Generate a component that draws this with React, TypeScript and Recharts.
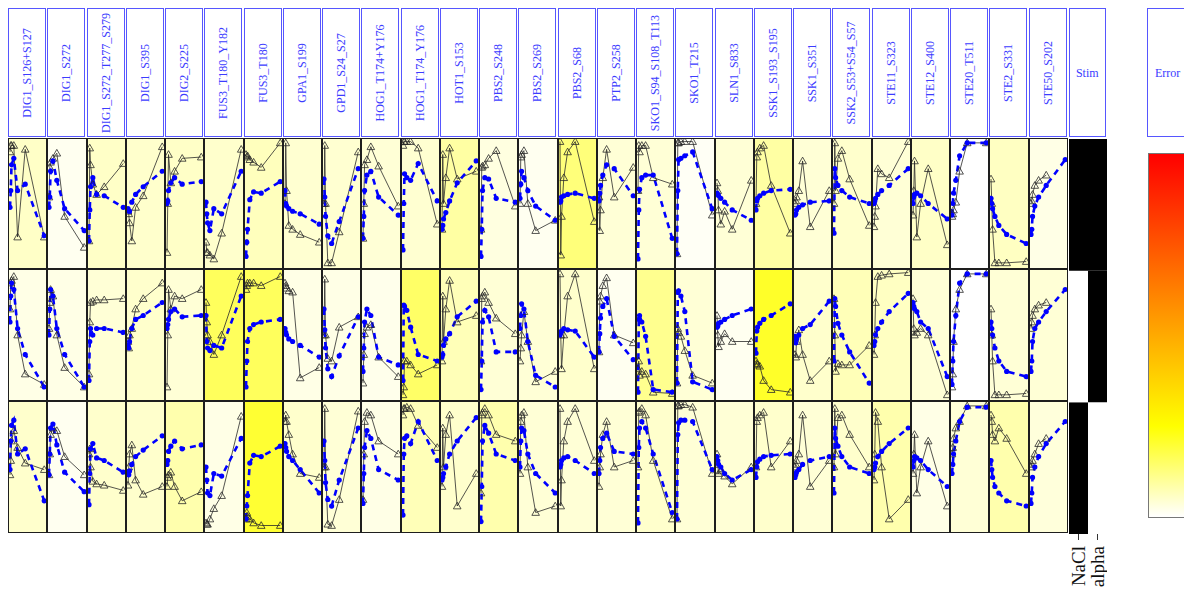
import React from "react";
import { LineChart, Line, XAxis, YAxis, BarChart, Bar, Cell } from "recharts";

// sampling times (min) shared by every phosphosite panel
const times = [0, 1, 2, 5, 10, 20, 45];

const sites = [
  "DIG1_S126+S127", "DIG1_S272", "DIG1_S272_T277_S279", "DIG1_S395", "DIG2_S225",
  "FUS3_T180_Y182", "FUS3_T180", "GPA1_S199", "GPD1_S24_S27", "HOG1_T174+Y176",
  "HOG1_T174_Y176", "HOT1_S153", "PBS2_S248", "PBS2_S269", "PBS2_S68", "PTP2_S258",
  "SKO1_S94_S108_T113", "SKO1_T215", "SLN1_S833", "SSK1_S193_S195", "SSK1_S351",
  "SSK2_S53+S54_S57", "STE11_S323", "STE12_S400", "STE20_T511", "STE2_S331", "STE50_S202",
];

const stimConditions = ["NaCl", "alpha"];
const stimNaCl = [1, 0, 1];
const stimAlpha = [1, 1, 0];

// fit error per panel, one list per experiment row
const errorRow1 = [0.055, 0.015, 0.055, 0.05, 0.055, 0.05, 0.065, 0.045, 0.045, 0.04, 0.045, 0.09, 0.03, 0.015, 0.13, 0.04, 0.04, 0.01, 0.04, 0.09, 0.04, 0.05, 0.04, 0.055, 0.0, 0.06, 0.025];
const errorRow2 = [0.025, 0.025, 0.04, 0.05, 0.04, 0.16, 0.16, 0.025, 0.025, 0.02, 0.15, 0.07, 0.04, 0.04, 0.05, 0.015, 0.11, 0.04, 0.015, 0.21, 0.05, 0.07, 0.06, 0.04, 0.0, 0.04, 0.04];
const errorRow3 = [0.05, 0.015, 0.05, 0.05, 0.08, 0.025, 0.2, 0.05, 0.04, 0.025, 0.07, 0.05, 0.08, 0.04, 0.04, 0.04, 0.05, 0.04, 0.04, 0.05, 0.04, 0.05, 0.08, 0.025, 0.04, 0.08, 0.035];

// normalised measurements (triangles)
const measuredRow1 = [
  [0.9, 0.95, 0.95, 0.95, 0.24, 0.92, 0.24], [0.55, 0.78, 0.82, 0.85, 0.89, 0.4, 0.16],
  [0.21, 0.93, 0.8, 0.65, 0.57, 0.63, 0.81], [0.44, 0.42, 0.35, 0.21, 0.47, 0.56, 0.94],
  [0.12, 0.5, 0.88, 0.66, 0.75, 0.85, 0.86], [0.2, 0.12, 0.12, 0.1, 0.07, 0.27, 0.92],
  [0.88, 0.86, 0.87, 0.84, 0.82, 0.78, 0.97], [0.5, 0.97, 0.6, 0.33, 0.3, 0.26, 0.2],
  [0.5, 0.95, 0.5, 0.04, 0.04, 0.28, 0.9], [0.23, 0.5, 0.8, 0.84, 0.94, 0.79, 0.48],
  [0.95, 0.98, 0.98, 0.98, 0.98, 0.93, 0.34], [0.3, 0.88, 0.5, 0.7, 0.93, 0.69, 0.75],
  [0.3, 0.78, 0.79, 0.8, 0.85, 0.91, 0.48], [0.5, 0.86, 0.88, 0.91, 0.5, 0.29, 0.37],
  [0.98, 0.1, 0.4, 0.7, 0.9, 0.98, 0.36], [0.55, 0.29, 0.45, 0.7, 0.92, 0.55, 0.78],
  [0.6, 0.95, 0.9, 0.95, 0.95, 0.7, 0.65], [0.11, 0.97, 0.97, 0.98, 0.98, 0.98, 0.41],
  [0.66, 0.6, 0.45, 0.34, 0.44, 0.3, 0.68], [0.5, 0.86, 0.9, 0.93, 0.95, 0.64, 0.27],
  [0.5, 0.52, 0.55, 0.6, 0.83, 0.32, 0.6], [0.5, 0.97, 0.6, 0.85, 0.91, 0.69, 0.33],
  [0.32, 0.4, 0.48, 0.77, 0.73, 0.7, 0.98], [0.41, 0.6, 0.83, 0.24, 0.5, 0.77, 0.18],
  [0.4, 0.42, 0.45, 0.51, 0.75, 0.97, 0.97], [0.69, 0.5, 0.3, 0.04, 0.04, 0.04, 0.05],
  [0.5, 0.52, 0.57, 0.64, 0.68, 0.72, null],
];
const measuredRow2 = [
  [0.7, 0.9, 0.92, 0.95, 0.5, 0.2, 0.12], [0.55, 0.75, 0.85, 0.8, 0.5, 0.25, 0.1],
  [0.2, 0.6, 0.75, 0.76, 0.77, 0.77, 0.78], [0.45, 0.4, 0.5, 0.55, 0.7, 0.78, 0.9],
  [0.1, 0.5, 0.85, 0.7, 0.8, 0.78, 0.85], [0.75, 0.6, 0.5, 0.45, 0.35, 0.5, 0.95],
  [0.85, 0.88, 0.9, 0.9, 0.9, 0.88, 0.95], [0.9, 0.88, 0.86, 0.84, 0.83, 0.17, 0.25],
  [0.5, 0.93, 0.5, 0.32, 0.3, 0.56, 0.64], [0.13, 0.35, 0.51, 0.56, 0.58, 0.33, 0.18],
  [0.04, 0.1, 0.3, 0.3, 0.27, 0.2, 0.27], [0.3, 0.8, 0.45, 0.7, 0.92, 0.6, 0.65],
  [0.3, 0.78, 0.8, 0.83, 0.75, 0.63, 0.51], [0.3, 0.4, 0.5, 0.68, 0.45, 0.14, 0.22],
  [0.97, 0.5, 0.24, 0.5, 0.8, 0.97, 0.24], [0.37, 0.76, 0.8, 0.88, 0.94, 0.5, 0.44],
  [0.24, 0.3, 0.19, 0.22, 0.2, 0.06, 0.05], [0.13, 0.55, 0.52, 0.49, 0.38, 0.19, 0.13],
  [0.65, 0.5, 0.41, 0.45, 0.51, 0.45, 0.45], [0.3, 0.28, 0.27, 0.26, 0.15, 0.08, 0.06],
  [0.35, 0.33, 0.45, 0.54, 0.35, 0.15, 0.3], [0.78, 0.5, 0.22, 0.28, 0.27, 0.27, 0.42],
  [0.35, 0.5, 0.75, 0.95, 0.96, 0.97, 0.98], [0.78, 0.55, 0.5, 0.52, 0.55, 0.5, 0.04],
  [0.1, 0.2, 0.45, 0.7, 0.85, 0.97, 0.97], [0.7, 0.5, 0.3, 0.04, 0.04, 0.04, 0.05],
  [0.55, 0.6, 0.65, 0.7, 0.73, 0.75, null],
];
const measuredRow3 = [
  [0.44, 0.55, 0.7, 0.78, 0.65, 0.53, 0.48], [0.44, 0.6, 0.75, 0.8, 0.78, 0.58, 0.44],
  [0.6, 0.64, 0.5, 0.39, 0.37, 0.36, 0.32], [0.36, 0.5, 0.6, 0.67, 0.4, 0.29, 0.35],
  [0.35, 0.42, 0.44, 0.46, 0.35, 0.24, 0.31], [0.07, 0.06, 0.06, 0.1, 0.18, 0.28, 0.89],
  [0.1, 0.15, 0.12, 0.1, 0.07, 0.05, 0.05], [0.85, 0.9, 0.85, 0.75, 0.6, 0.45, 0.42],
  [0.5, 0.95, 0.5, 0.06, 0.05, 0.25, 0.93], [0.25, 0.6, 0.85, 0.92, 0.9, 0.7, 0.6],
  [0.9, 0.95, 0.95, 0.96, 0.95, 0.82, 0.65], [0.35, 0.8, 0.5, 0.75, 0.9, 0.2, 0.45],
  [0.3, 0.9, 0.92, 0.95, 0.9, 0.75, 0.7], [0.45, 0.85, 0.9, 0.92, 0.5, 0.15, 0.2],
  [0.95, 0.2, 0.4, 0.7, 0.85, 0.95, 0.55], [0.35, 0.5, 0.6, 0.75, 0.85, 0.5, 0.55],
  [0.5, 0.92, 0.93, 0.95, 0.9, 0.55, 0.1], [0.1, 0.97, 0.97, 0.98, 0.98, 0.96, 0.45],
  [0.6, 0.52, 0.45, 0.47, 0.43, 0.37, 0.5], [0.5, 0.85, 0.88, 0.9, 0.92, 0.5, 0.7],
  [0.5, 0.52, 0.55, 0.6, 0.9, 0.35, 0.55], [0.5, 0.95, 0.6, 0.88, 0.9, 0.75, 0.5],
  [0.4, 0.6, 0.92, 0.85, 0.5, 0.1, 0.25], [0.45, 0.6, 0.75, 0.3, 0.5, 0.7, 0.2],
  [0.6, 0.65, 0.72, 0.8, 0.85, 0.97, 0.97], [0.9, 0.85, 0.75, 0.7, 0.8, 0.72, 0.45],
  [0.5, 0.52, 0.55, 0.6, 0.68, 0.72, null],
];

// normalised model output (blue dashed)
const simulatedRow1 = [
  [0.47, 0.6, 0.8, 0.85, 0.6, 0.65, 0.25], [0.47, 0.55, 0.75, 0.83, 0.68, 0.46, 0.29],
  [0.21, 0.45, 0.63, 0.7, 0.57, 0.56, 0.47], [0.46, 0.44, 0.44, 0.51, 0.57, 0.63, 0.75],
  [0.5, 0.52, 0.6, 0.66, 0.7, 0.65, 0.67], [0.51, 0.42, 0.35, 0.29, 0.46, 0.42, 0.75],
  [0.09, 0.2, 0.3, 0.53, 0.59, 0.58, 0.67], [0.6, 0.5, 0.48, 0.46, 0.44, 0.42, 0.34],
  [0.69, 0.55, 0.4, 0.25, 0.19, 0.36, 0.77], [0.23, 0.4, 0.6, 0.72, 0.75, 0.55, 0.41],
  [0.14, 0.5, 0.73, 0.7, 0.68, 0.81, 0.52], [0.3, 0.33, 0.38, 0.43, 0.52, 0.66, 0.83],
  [0.09, 0.3, 0.6, 0.7, 0.69, 0.54, 0.51], [0.54, 0.65, 0.75, 0.7, 0.6, 0.48, 0.37],
  [0.51, 0.52, 0.55, 0.56, 0.57, 0.58, 0.54], [0.52, 0.58, 0.64, 0.72, 0.8, 0.77, 0.56],
  [0.07, 0.45, 0.61, 0.7, 0.72, 0.72, 0.23], [0.11, 0.6, 0.84, 0.85, 0.87, 0.9, 0.46],
  [0.58, 0.57, 0.56, 0.54, 0.51, 0.45, 0.37], [0.45, 0.52, 0.54, 0.56, 0.58, 0.6, 0.61],
  [0.41, 0.42, 0.45, 0.47, 0.49, 0.51, 0.52], [0.27, 0.77, 0.7, 0.64, 0.6, 0.55, 0.5],
  [0.5, 0.52, 0.54, 0.57, 0.6, 0.64, 0.77], [0.5, 0.55, 0.57, 0.58, 0.56, 0.5, 0.38],
  [0.41, 0.5, 0.58, 0.68, 0.87, 0.97, 0.97], [0.54, 0.5, 0.46, 0.4, 0.33, 0.26, 0.19],
  [0.26, 0.3, 0.4, 0.48, 0.55, 0.64, 0.84],
];
const simulatedRow2 = [
  [0.6, 0.8, 0.9, 0.85, 0.55, 0.35, 0.1], [0.5, 0.7, 0.85, 0.8, 0.55, 0.35, 0.1],
  [0.15, 0.45, 0.55, 0.5, 0.55, 0.55, 0.52], [0.42, 0.4, 0.45, 0.55, 0.62, 0.65, 0.75],
  [0.55, 0.58, 0.62, 0.68, 0.7, 0.64, 0.65], [0.65, 0.45, 0.4, 0.38, 0.42, 0.4, 0.8],
  [0.1, 0.3, 0.45, 0.55, 0.58, 0.6, 0.62], [0.55, 0.52, 0.5, 0.47, 0.45, 0.42, 0.33],
  [0.7, 0.54, 0.4, 0.24, 0.18, 0.34, 0.64], [0.22, 0.4, 0.6, 0.7, 0.65, 0.33, 0.27],
  [0.15, 0.73, 0.72, 0.69, 0.56, 0.35, 0.3], [0.33, 0.35, 0.42, 0.47, 0.51, 0.64, 0.76],
  [0.08, 0.3, 0.6, 0.69, 0.64, 0.37, 0.37], [0.55, 0.65, 0.74, 0.7, 0.45, 0.19, 0.1],
  [0.5, 0.52, 0.53, 0.55, 0.54, 0.53, 0.33], [0.37, 0.51, 0.63, 0.72, 0.78, 0.49, 0.31],
  [0.06, 0.62, 0.65, 0.6, 0.49, 0.08, 0.06], [0.13, 0.83, 0.84, 0.8, 0.68, 0.14, 0.08],
  [0.56, 0.57, 0.59, 0.6, 0.62, 0.65, 0.7], [0.36, 0.53, 0.56, 0.59, 0.62, 0.65, 0.74],
  [0.49, 0.44, 0.47, 0.5, 0.55, 0.58, 0.76], [0.3, 0.78, 0.72, 0.59, 0.5, 0.37, 0.13],
  [0.42, 0.45, 0.5, 0.55, 0.6, 0.68, 0.82], [0.75, 0.72, 0.7, 0.68, 0.6, 0.55, 0.18],
  [0.12, 0.3, 0.45, 0.65, 0.9, 0.97, 0.97], [0.6, 0.55, 0.5, 0.4, 0.3, 0.22, 0.18],
  [0.22, 0.3, 0.45, 0.55, 0.6, 0.68, 0.85],
];
const simulatedRow3 = [
  [0.48, 0.7, 0.82, 0.86, 0.6, 0.64, 0.24], [0.44, 0.6, 0.8, 0.83, 0.67, 0.46, 0.31],
  [0.21, 0.45, 0.64, 0.68, 0.57, 0.55, 0.46], [0.46, 0.44, 0.47, 0.52, 0.58, 0.63, 0.74],
  [0.52, 0.55, 0.62, 0.66, 0.7, 0.64, 0.67], [0.5, 0.4, 0.3, 0.28, 0.45, 0.43, 0.72],
  [0.1, 0.2, 0.28, 0.53, 0.59, 0.58, 0.66], [0.68, 0.65, 0.62, 0.58, 0.55, 0.48, 0.3],
  [0.7, 0.55, 0.38, 0.25, 0.2, 0.4, 0.8], [0.22, 0.45, 0.65, 0.78, 0.72, 0.48, 0.4],
  [0.13, 0.6, 0.72, 0.74, 0.68, 0.85, 0.55], [0.4, 0.42, 0.45, 0.5, 0.6, 0.7, 0.88],
  [0.08, 0.35, 0.7, 0.82, 0.76, 0.6, 0.55], [0.5, 0.7, 0.8, 0.78, 0.6, 0.45, 0.3],
  [0.5, 0.52, 0.55, 0.57, 0.58, 0.55, 0.45], [0.45, 0.55, 0.65, 0.72, 0.76, 0.62, 0.6],
  [0.07, 0.65, 0.8, 0.85, 0.8, 0.6, 0.15], [0.1, 0.75, 0.84, 0.86, 0.86, 0.85, 0.48],
  [0.58, 0.55, 0.52, 0.5, 0.45, 0.4, 0.48], [0.42, 0.5, 0.54, 0.56, 0.58, 0.59, 0.6],
  [0.42, 0.44, 0.46, 0.48, 0.52, 0.55, 0.58], [0.3, 0.8, 0.72, 0.66, 0.58, 0.5, 0.45],
  [0.48, 0.5, 0.53, 0.58, 0.62, 0.68, 0.8], [0.5, 0.55, 0.58, 0.57, 0.55, 0.48, 0.35],
  [0.45, 0.52, 0.6, 0.7, 0.85, 0.96, 0.96], [0.55, 0.48, 0.42, 0.35, 0.3, 0.24, 0.2],
  [0.22, 0.3, 0.42, 0.5, 0.58, 0.68, 0.85],
];

const rows = [
  { top: 138, height: 131, error: errorRow1, measured: measuredRow1, simulated: simulatedRow1 },
  { top: 269, height: 132, error: errorRow2, measured: measuredRow2, simulated: simulatedRow2 },
  { top: 401, height: 132, error: errorRow3, measured: measuredRow3, simulated: simulatedRow3 },
];

const X0 = 8;
const PITCH = 39.25;
const colLeft = (i: number) => Math.round(X0 + PITCH * i);

// white -> yellow -> orange -> red, like the colour key on the right
const errorStops: [number, number[]][] = [
  [0, [255, 255, 255]],
  [0.25, [255, 255, 0]],
  [0.55, [255, 153, 0]],
  [1, [255, 0, 0]],
];
function errorColor(e: number) {
  for (let k = 1; k < errorStops.length; k++) {
    const [p1, c1] = errorStops[k];
    const [p0, c0] = errorStops[k - 1];
    if (e <= p1) {
      const f = (e - p0) / (p1 - p0);
      const c = c0.map((v, j) => Math.round(v + (c1[j] - v) * f));
      return `rgb(${c[0]},${c[1]},${c[2]})`;
    }
  }
  return "rgb(255,0,0)";
}

const renderTriangle = (p: any) => {
  const { cx, cy, index } = p;
  if (cx == null || cy == null) return <g key={`tri-${index}`} />;
  const s = 3.8;
  return (
    <path
      key={`tri-${index}`}
      d={`M${cx},${cy - s}L${cx + s},${cy + s * 0.75}L${cx - s},${cy + s * 0.75}Z`}
      fill="none"
      stroke="#2a2a2a"
      strokeWidth={0.8}
    />
  );
};

function SitePanel({ left, top, width, height, measured, simulated, error }: any) {
  const data = times.map((t, k) => ({ t, measured: measured[k], simulated: simulated[k] }));
  return (
    <div
      style={{
        position: "absolute",
        left,
        top,
        width,
        height,
        boxSizing: "border-box",
        border: "1px solid #1e1e1e",
        background: errorColor(error),
      }}
    >
      <LineChart width={width - 2} height={height - 2} data={data} margin={{ top: 0, right: 1, bottom: 0, left: 1 }}>
        <XAxis dataKey="t" type="number" domain={[0, 46]} hide />
        <YAxis domain={[0, 1]} hide />
        <Line
          dataKey="measured"
          stroke="#2a2a2a"
          strokeWidth={0.8}
          dot={renderTriangle}
          activeDot={false}
          isAnimationActive={false}
        />
        <Line
          dataKey="simulated"
          stroke="#0000ff"
          strokeWidth={2.6}
          strokeDasharray="6 5"
          dot={{ r: 2.6, fill: "#0000ff", stroke: "none" }}
          activeDot={false}
          isAnimationActive={false}
        />
      </LineChart>
    </div>
  );
}

const StimTick = (p: any) => {
  const { x, y, payload } = p;
  return (
    <text
      x={x}
      y={y + 4}
      transform={`rotate(-90, ${x}, ${y + 4})`}
      textAnchor="end"
      dy="0.35em"
      fontSize={19}
      fontFamily="Liberation Serif, serif"
      fill="#111"
    >
      {payload.value}
    </text>
  );
};

export default function App() {
  const stimData = stimConditions.map((cond) => ({ cond, r1: 1, r2: 1, r3: 1 }));
  const stimOn = (j: number, r: number) => (j === 0 ? stimNaCl[r] : stimAlpha[r]);
  const headerStyle: React.CSSProperties = {
    position: "absolute",
    top: 8,
    height: 129,
    boxSizing: "border-box",
    border: "1.5px solid #5656ff",
    background: "#fff",
  };
  const labelStyle: React.CSSProperties = {
    position: "absolute",
    left: "50%",
    top: "50%",
    transform: "translate(-50%, -50%) rotate(-90deg)",
    whiteSpace: "nowrap",
    fontSize: 12,
    color: "#3c3cff",
  };

  return (
    <div
      style={{
        position: "absolute",
        left: 0,
        top: 0,
        width: 1184,
        height: 592,
        overflow: "hidden",
        background: "#fff",
        fontFamily: "'Liberation Serif', serif",
      }}
    >
      {sites.map((s, i) => (
        <div key={s} style={{ ...headerStyle, left: colLeft(i), width: 37.5 }}>
          <div style={labelStyle}>{s}</div>
        </div>
      ))}
      <div style={{ ...headerStyle, left: colLeft(27) + 0.5, width: 37.5 }}>
        <div style={{ position: "absolute", left: 0, right: 0, top: 57, textAlign: "center", fontSize: 12, color: "#3c3cff" }}>
          Stim
        </div>
      </div>
      <div style={{ ...headerStyle, left: 1147, width: 60 }}>
        <div style={{ position: "absolute", left: 7, top: 57, fontSize: 12, color: "#3c3cff" }}>Error</div>
      </div>

      {rows.map((row, r) =>
        sites.map((s, i) => (
          <SitePanel
            key={`${r}-${s}`}
            left={colLeft(i)}
            top={row.top}
            width={colLeft(i + 1) - colLeft(i)}
            height={row.height}
            measured={row.measured[i]}
            simulated={row.simulated[i]}
            error={row.error[i]}
          />
        ))
      )}

      <div style={{ position: "absolute", left: colLeft(27) + 1, top: 138 }}>
        <BarChart
          width={38}
          height={454}
          data={stimData}
          margin={{ top: 1, right: 0, bottom: 0, left: 0 }}
          barCategoryGap={0}
          barGap={0}
        >
          <XAxis
            dataKey="cond"
            height={58}
            interval={0}
            axisLine={false}
            tickSize={6}
            tickLine={{ stroke: "#333" }}
            tick={StimTick}
          />
          <YAxis domain={[0, 3]} hide />
          {["r3", "r2", "r1"].map((key) => {
            const r = key === "r1" ? 0 : key === "r2" ? 1 : 2;
            return (
              <Bar key={key} dataKey={key} stackId="stim" isAnimationActive={false}>
                {stimData.map((d, j) => (
                  <Cell key={d.cond} fill={stimOn(j, r) ? "#000" : "#fff"} />
                ))}
              </Bar>
            );
          })}
        </BarChart>
      </div>

      <div
        style={{
          position: "absolute",
          left: 1148,
          top: 153,
          width: 60,
          height: 365,
          boxSizing: "border-box",
          border: "1px solid #777",
          background: "linear-gradient(to top, #ffffff 0%, #ffff00 25%, #ff9900 55%, #ff0000 100%)",
        }}
      />
    </div>
  );
}
